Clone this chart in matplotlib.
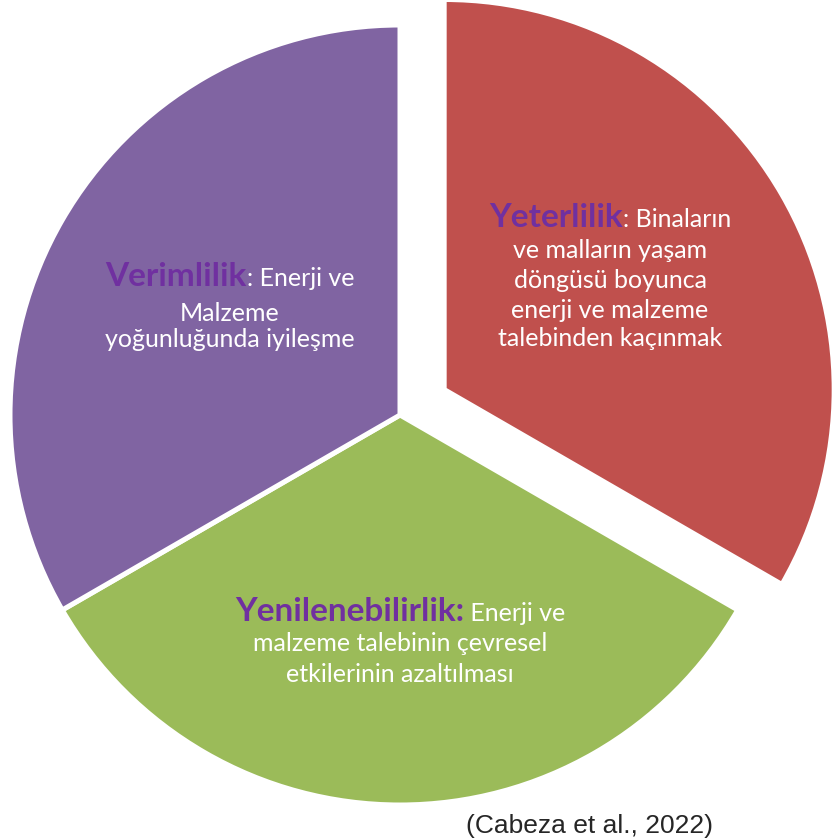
import matplotlib
matplotlib.use("Agg")
import matplotlib.pyplot as plt

# --- data ---
shares = [1, 1, 1]
slice_colors = ["#C0504D", "#9BBB59", "#8064A2"]
pull_out = [51, 0, 0]   # red slice pulled out (pixels)

# each block: bold keyword, rest of first line, following lines
keywords = ["Yeterlilik", "Yenilenebilirlik:", "Verimlilik"]
first_rest = [": Binaların", " Enerji ve", ": Enerji ve"]
more_lines = [
    ["ve malların yaşam", "döngüsü boyunca", "enerji ve malzeme", "talebinden kaçınmak"],
    ["malzeme talebinin çevresel", "etkilerinin azaltılması"],
    ["Malzeme", "yoğunluğunda iyileşme"],
]
source = "(Cabeza et al., 2022)"

W, H = 832, 840
fig = plt.figure(figsize=(W / 100, H / 100), dpi=100)
ax = fig.add_axes([0, 0, 1, 1])

# explode is in data units here, and data units are pixels
ax.pie(shares, colors=slice_colors, explode=pull_out, startangle=90,
       counterclock=False, center=(400, H - 415), radius=390,
       wedgeprops=dict(edgecolor="white", linewidth=3.6))
ax.set_xlim(0, W)
ax.set_ylim(0, H)
ax.set_aspect("equal")
ax.axis("off")

font = "Lato"
kw_size = 24
body_size = 18
purple = "#7030A0"

# block centre x and baselines (pixels from top)
centres = [610, 400, 230]
baselines = [
    [227, 258, 288, 318, 346],
    [621, 651, 682],
    [286, 321, 347],
]

fig.canvas.draw()
r = fig.canvas.get_renderer()
for i in range(3):
    y0 = H - baselines[i][0]
    t1 = ax.text(0, y0, keywords[i], color=purple, fontsize=kw_size,
                 fontweight="bold", family=font, va="baseline")
    t2 = ax.text(0, y0, first_rest[i], color="white", fontsize=body_size,
                 family=font, va="baseline")
    w1 = t1.get_window_extent(r).width
    w2 = t2.get_window_extent(r).width
    x0 = centres[i] - (w1 + w2) / 2
    t1.set_x(x0)
    t2.set_x(x0 + w1)
    for line, b in zip(more_lines[i], baselines[i][1:]):
        ax.text(centres[i], H - b, line, color="white", fontsize=body_size,
                family=font, ha="center", va="baseline")

ax.text(589, H - 833, source, color="#262626", fontsize=19,
        family="Liberation Sans", ha="center", va="baseline")

fig.savefig("out.png", dpi=100, facecolor="white")
